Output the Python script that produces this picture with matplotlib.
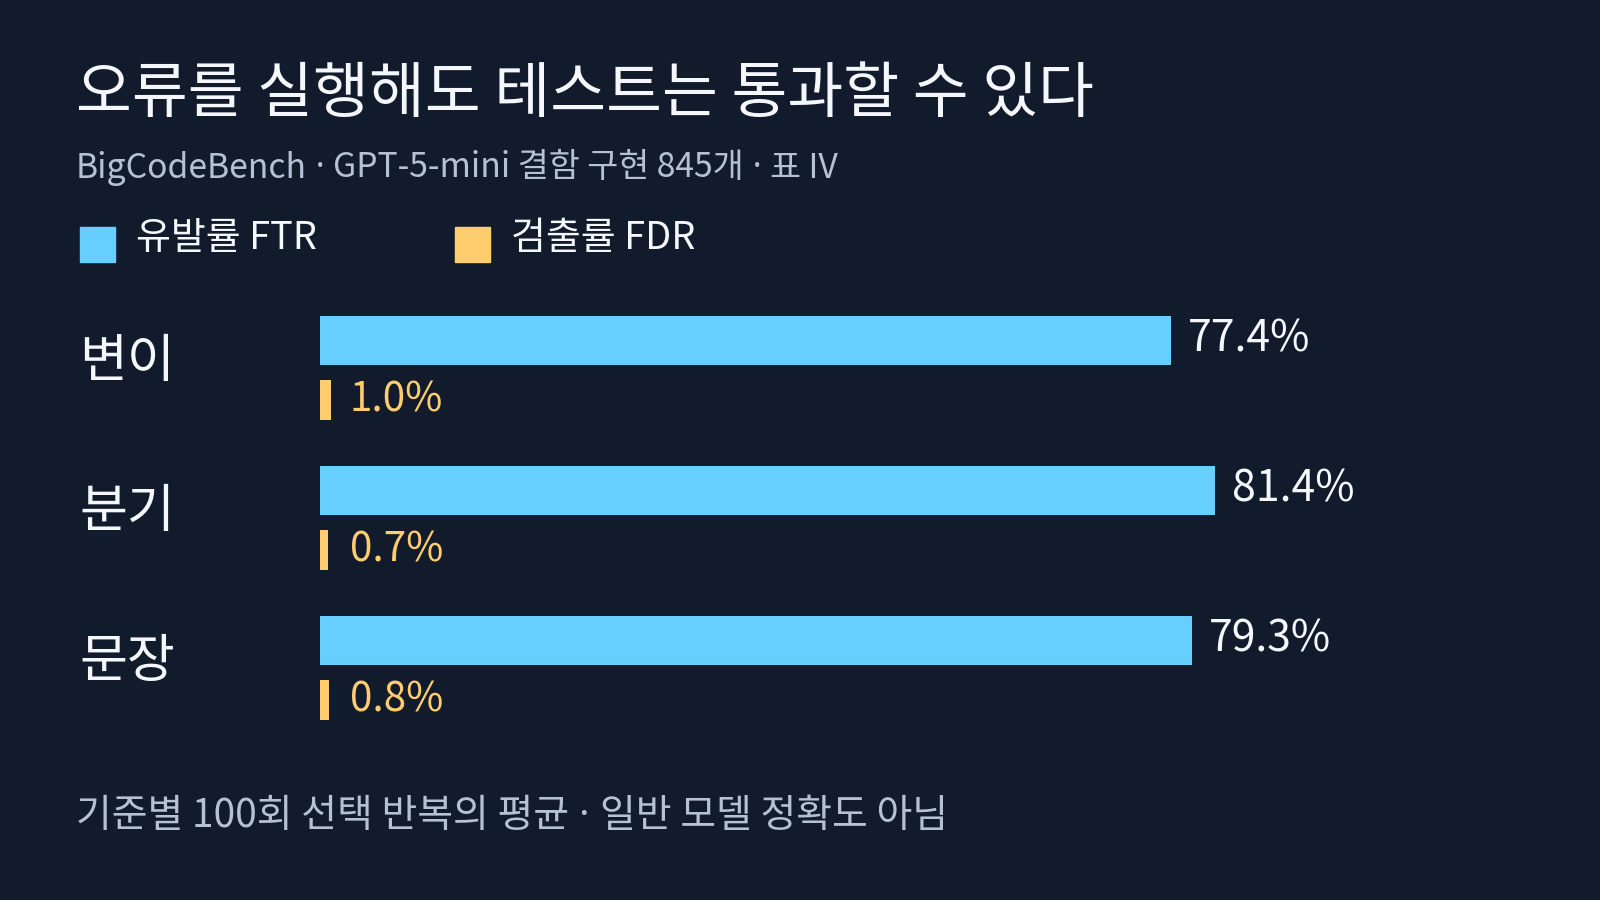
import matplotlib
matplotlib.use("Agg")
import matplotlib.pyplot as plt
import matplotlib.transforms as mtransforms

plt.rcParams['font.family'] = ['Noto Sans CJK KR', 'DejaVu Sans']
FW = "light"

categories = ["변이", "분기", "문장"]
ftr_values = [77.4, 81.4, 79.3]
fdr_values = [1.0, 0.7, 0.8]
ftr_labels = ["77.4%", "81.4%", "79.3%"]
fdr_labels = ["1.0%", "0.7%", "0.8%"]
legend_labels = ["유발률 FTR", "검출률 FDR"]
title = "오류를 실행해도 테스트는 통과할 수 있다"
subtitle_parts = ["BigCodeBench", "GPT-5-mini 결함 구현 845개", "표 IV"]
footer_parts = ["기준별 100회 선택 반복의 평균", "일반 모델 정확도 아님"]

BG = "#111b2c"
BLUE = "#66cfff"
YELLOW = "#ffcc6e"
WHITE = "#f4f7fb"
MUTED = "#b6c2d4"

W, H = 1600, 900
fig = plt.figure(figsize=(16, 9), dpi=100, facecolor=BG)
renderer = fig.canvas.get_renderer()


def fx(px):
    return px / W


def fy(py):
    return 1 - py / H


def joined_text(x_px, y_px, parts, fontsize, color):
    """Draw parts joined by a narrow middle dot ' · '."""
    x = x_px
    pieces = []
    for i, p in enumerate(parts):
        if i > 0:
            pieces.append((" · ", ["Noto Sans", "DejaVu Sans"]))
        pieces.append((p, ["Noto Sans CJK KR", "DejaVu Sans"]))
    for s, fam in pieces:
        t = fig.text(fx(x), fy(y_px), s, color=color, fontsize=fontsize, va="center",
                     ha="left", family=fam, fontweight=FW)
        bb = t.get_window_extent(renderer=renderer)
        x += bb.width


# Title / subtitle
fig.text(fx(76), fy(95), title, color=WHITE, fontsize=43.7, va="center", ha="left",
         fontweight=FW)
joined_text(76, 168, subtitle_parts, 24.3, MUTED)

# Legend
legend_x = [80, 455]
legend_colors = [BLUE, YELLOW]
for lx, lab, col in zip(legend_x, legend_labels, legend_colors):
    fig.patches.append(plt.Rectangle((fx(lx), fy(262)), 35 / W, 35 / H,
                                     transform=fig.transFigure, color=col, zorder=3))
    fig.text(fx(lx + 56), fy(239), lab, color=WHITE, fontsize=27.3, va="center",
             ha="left", fontweight=FW)

# Bars axes: x 0..100 -> 320..1420 px ; 1 group = 150 px
ax_top, ax_bot = 295, 745
ax = fig.add_axes([fx(320), fy(ax_bot), 1100 / W, (ax_bot - ax_top) / H])
ax.set_facecolor(BG)
ax.set_xlim(0, 100)
ax.set_ylim(2.5, -0.5)
ax.axis("off")

ypos = list(range(len(categories)))
ftr_off, ftr_h = -30.0 / 150, 49.0 / 150
fdr_off, fdr_h = 30.0 / 150, 40.0 / 150
ax.barh([y + ftr_off for y in ypos], ftr_values, height=ftr_h, color=BLUE, left=0)
ax.barh([y + fdr_off for y in ypos], fdr_values, height=fdr_h, color=YELLOW, left=0)

for y, v, lab in zip(ypos, ftr_values, ftr_labels):
    ax.annotate(lab, xy=(v, y + ftr_off), xytext=(12, 0), textcoords="offset points",
                color=WHITE, fontsize=30.8, va="center", ha="left", fontweight=FW)
for y, v, lab in zip(ypos, fdr_values, fdr_labels):
    ax.annotate(lab, xy=(0, y + fdr_off), xytext=(21.5, 0), textcoords="offset points",
                color=YELLOW, fontsize=29, va="center", ha="left", fontweight=FW)

blend = mtransforms.blended_transform_factory(fig.transFigure, ax.transData)
for y, cat in zip(ypos, categories):
    ax.text(fx(79), y - 8.0 / 150, cat, transform=blend, color=WHITE, fontsize=37.5,
            va="center", ha="left", fontweight=FW)

joined_text(76, 816, footer_parts, 28, MUTED)

fig.savefig("out.png", dpi=100, facecolor=BG)
